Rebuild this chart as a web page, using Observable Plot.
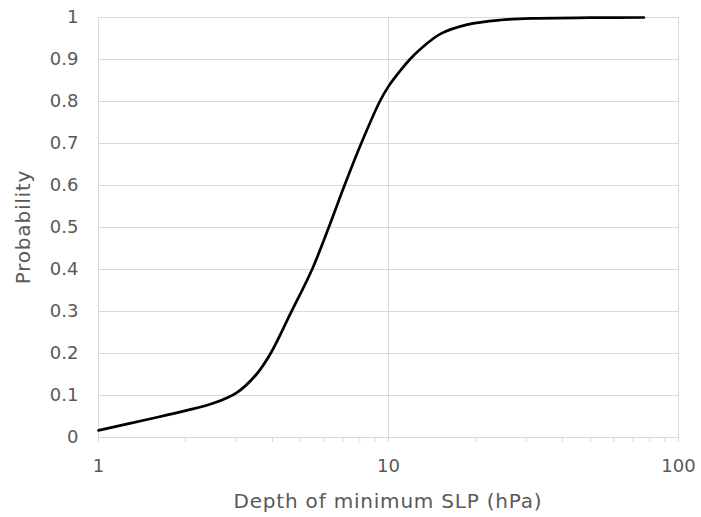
<!DOCTYPE html>
<html>
<head>
<meta charset="utf-8">
<script src="https://cdn.jsdelivr.net/npm/d3@7"></script>
<script src="https://cdn.jsdelivr.net/npm/@observablehq/plot@0.6"></script>
<style>
  body { margin: 0; background: #fff; }
  #chart svg { display: block; }
</style>
</head>
<body>
<div id="chart"></div>
<script>
// Data
const depth = [1, 1.5, 2, 2.5, 3, 3.5, 3.92, 4.59, 5.45, 6.22, 7.05, 8.05, 9.33, 10, 11, 11.84, 12.89, 15.11, 18.68, 24.33, 31.6, 50, 76];
const probability = [0.017, 0.044, 0.064, 0.082, 0.107, 0.15, 0.2, 0.295, 0.4, 0.5, 0.6, 0.7, 0.8, 0.836, 0.874, 0.9, 0.925, 0.961, 0.983, 0.994, 0.998, 0.9995, 1.0];
const xMajorTicks = [1, 10, 100];
const xMinorTicks = [2, 3, 4, 5, 6, 7, 8, 9, 20, 30, 40, 50, 60, 70, 80, 90];
const yTicks = [0, 0.1, 0.2, 0.3, 0.4, 0.5, 0.6, 0.7, 0.8, 0.9, 1];
const xLabel = "Depth of minimum SLP (hPa)";
const yLabel = "Probability";

const data = depth.map((d, i) => ({depth: d, p: probability[i]}));
const grid = "#d9d9d9";
const textColor = "#595959";

const chart = Plot.plot({
  width: 701,
  height: 517,
  marginLeft: 98,
  marginRight: 23,
  marginTop: 17,
  marginBottom: 80,
  style: {fontFamily: "DejaVu Sans, Verdana, sans-serif", fontSize: "18px", color: textColor, background: "#fff"},
  x: {type: "log", domain: [1, 100]},
  y: {domain: [0, 1]},
  marks: [
    Plot.gridY(yTicks, {stroke: grid, strokeOpacity: 1, strokeWidth: 1}),
    Plot.gridX(xMajorTicks, {stroke: grid, strokeOpacity: 1, strokeWidth: 1}),
    Plot.axisY(yTicks, {tickSize: 0, tickPadding: 20, tickFormat: d => String(d), label: null, fill: textColor}),
    Plot.axisX(xMajorTicks, {tickSize: 5, tickPadding: 17, stroke: grid, strokeOpacity: 1, tickFormat: d => String(d), label: null, fill: textColor}),
    Plot.ruleY([0], {stroke: grid, strokeWidth: 1}),
    Plot.line(data, {x: "depth", y: "p", curve: "catmull-rom", stroke: "#000", strokeWidth: 2.7})
  ]
});

// Minor ticks below the axis, positioned through the x scale
const xs = chart.scale("x");
const ys = chart.scale("y");
const y0 = ys.apply(0);
const svg = d3.select(chart);
const minorG = svg.append("g").attr("stroke", grid);
xMinorTicks.forEach(t => {
  const px = xs.apply(t);
  minorG.append("line").attr("x1", px).attr("x2", px).attr("y1", y0).attr("y2", y0 + 5);
});
// Axis titles
const [r0, r1] = xs.range;
const [yr0, yr1] = ys.range;
svg.append("text")
  .attr("x", (r0 + r1) / 2).attr("y", 508)
  .attr("text-anchor", "middle").attr("fill", textColor)
  .style("font-size", "20px").style("letter-spacing", "0.8px")
  .text(xLabel);
svg.append("text")
  .attr("transform", `translate(30, ${(yr0 + yr1) / 2}) rotate(-90)`)
  .attr("text-anchor", "middle").attr("fill", textColor)
  .style("font-size", "20px").style("letter-spacing", "0.8px")
  .text(yLabel);

document.getElementById("chart").appendChild(chart);
</script>
</body>
</html>
